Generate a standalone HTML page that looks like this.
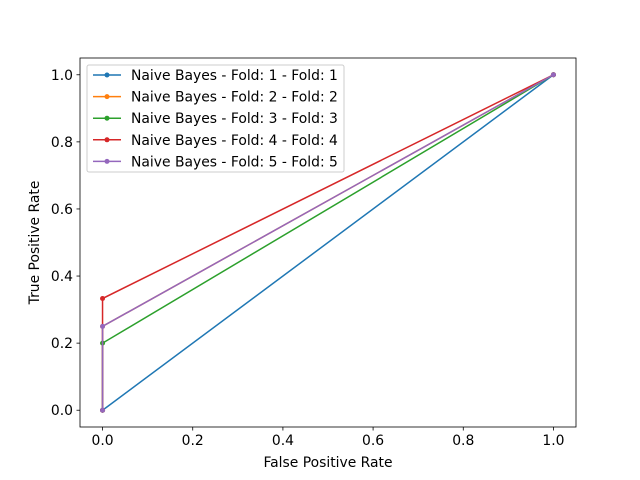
<!DOCTYPE html>
<html><head><meta charset="utf-8"><style>
body{margin:0;background:#fff}
svg{display:block;font-family:"DejaVu Sans","Liberation Sans",sans-serif}
</style></head><body>
<svg id="chart" width="640" height="480" xmlns="http://www.w3.org/2000/svg">
<rect width="640" height="480" fill="#fff"/>
<g id="plot"></g>
<rect x="80" y="58" width="496" height="369" fill="none" stroke="#000" stroke-width="0.8"/>
<g id="ticks" font-size="13.9" fill="#000"></g>
<text x="328" y="467" font-size="13.9" text-anchor="middle">False Positive Rate</text>
<text transform="translate(39,242.5) rotate(-90)" font-size="13.9" text-anchor="middle">True Positive Rate</text>
<g id="legend" font-size="13.9"></g>
</svg>
<script>
const labels = ["Naive Bayes - Fold: 1 - Fold: 1","Naive Bayes - Fold: 2 - Fold: 2","Naive Bayes - Fold: 3 - Fold: 3","Naive Bayes - Fold: 4 - Fold: 4","Naive Bayes - Fold: 5 - Fold: 5"];
const colors = ["#1f77b4","#ff7f0e","#2ca02c","#d62728","#9467bd"];
const fpr1 = [0,1], tpr1 = [0,1];
const fpr2 = [0,0,1], tpr2 = [0,0.25,1];
const fpr3 = [0,0,1], tpr3 = [0,0.2,1];
const fpr4 = [0,0,1], tpr4 = [0,0.333,1];
const fpr5 = [0,0,1], tpr5 = [0,0.25,1];
const xs = [fpr1,fpr2,fpr3,fpr4,fpr5];
const ys = [tpr1,tpr2,tpr3,tpr4,tpr5];
const xTicks = [0,0.2,0.4,0.6,0.8,1.0];
const yTicks = [0,0.2,0.4,0.6,0.8,1.0];
const NS="http://www.w3.org/2000/svg";
const L=80,R=576,T=58,B=427,min=-0.05,max=1.05;
const sx=v=>L+(v-min)/(max-min)*(R-L);
const sy=v=>B-(v-min)/(max-min)*(B-T);
function mk(tag,attrs,parent){const e=document.createElementNS(NS,tag);for(const k in attrs)e.setAttribute(k,attrs[k]);parent.appendChild(e);return e;}
const plot=document.getElementById('plot');
xs.forEach((xa,i)=>{
  const g=mk('g',{},plot);
  
  
  const pts=xa.map((x,j)=>sx(x)+','+sy(ys[i][j])).join(' ');
  const pl=mk('polyline',{points:pts,fill:'none',stroke:colors[i],'stroke-width':1.5},g);
  
  
  xa.forEach((x,j)=>{
    const c=mk('circle',{cx:sx(x),cy:sy(ys[i][j]),r:2.5,fill:colors[i]},g);
    
    
  });
});
const tk=document.getElementById('ticks');
xTicks.forEach(v=>{
  const l=mk('line',{x1:sx(v),x2:sx(v),y1:B,y2:B+3.5,stroke:'#000','stroke-width':0.8},tk);
  
  
  const t=mk('text',{x:sx(v),y:B+18,'text-anchor':'middle'},tk);t.textContent=v.toFixed(1);
  
  
});
yTicks.forEach(v=>{
  const l=mk('line',{x1:L-3.5,x2:L,y1:sy(v),y2:sy(v),stroke:'#000','stroke-width':0.8},tk);
  
  
  const t=mk('text',{x:L-7,y:sy(v)+5,'text-anchor':'end'},tk);t.textContent=v.toFixed(1);
  
  
});
const lg=document.getElementById('legend');


mk('rect',{x:87,y:65,width:257,height:107,rx:2,fill:'#fff','fill-opacity':0.8,stroke:'#ccc'},lg);
labels.forEach((s,i)=>{
  const y=75+i*21.6;
  const g=mk('g',{},lg);
  
  
  mk('line',{x1:93,x2:121,y1:y,y2:y,stroke:colors[i],'stroke-width':1.5},g);
  mk('circle',{cx:107,cy:y,r:2.5,fill:colors[i]},g);
  const t=mk('text',{x:131,y:y+5},g);t.textContent=s;
});
</script>
</body></html>
